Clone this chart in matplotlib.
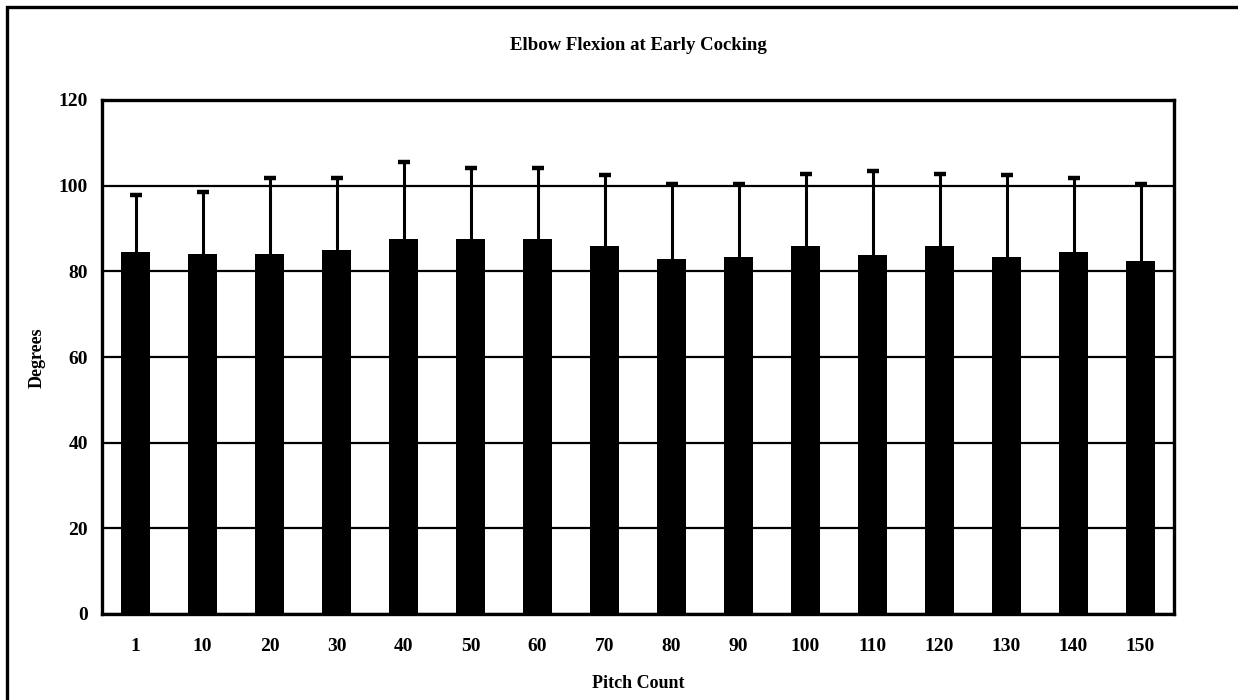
import matplotlib
matplotlib.use("Agg")
import matplotlib.pyplot as plt
from matplotlib.patches import Rectangle
import numpy as np

# Elbow flexion (degrees) at early cocking, by pitch count
pitch_counts = ["1", "10", "20", "30", "40", "50", "60", "70", "80", "90",
                "100", "110", "120", "130", "140", "150"]
mean_flexion = [84.4, 84.1, 84.1, 85.0, 87.5, 87.5, 87.5, 85.8, 82.9, 83.3,
                85.8, 83.8, 85.8, 83.3, 84.4, 82.3]
sd_flexion = [13.5, 14.4, 17.8, 16.9, 18.1, 16.7, 16.7, 16.7, 17.5, 17.2,
              17.0, 19.6, 17.0, 19.2, 17.5, 18.1]
y_ticks = [0, 20, 40, 60, 80, 100, 120]

plt.rcParams["font.family"] = ["Liberation Serif", "DejaVu Serif"]
plt.rcParams["font.weight"] = "bold"

W, H = 1238, 700
fig = plt.figure(figsize=(W / 100, H / 100), dpi=100)
fig.patch.set_facecolor("white")

# Outer chart border
fig.patches.append(Rectangle((7 / W, -0.05), 1.2, 1 - 7 / H + 0.05,
                             transform=fig.transFigure, fill=False,
                             edgecolor="black", linewidth=2.4, zorder=0))

ax = fig.add_axes([102 / W, 1 - 614 / H, (1174 - 102) / W, (614 - 100) / H])
x = np.arange(len(pitch_counts))
ax.bar(x, mean_flexion, width=0.42, color="black", zorder=2)
eb = ax.errorbar(x, mean_flexion, yerr=[np.zeros(len(sd_flexion)), sd_flexion],
                 fmt="none", ecolor="black", elinewidth=2.2, capsize=4.5,
                 capthick=3.2, zorder=3)
# upper-only error bars: hide the caps sitting on the bar tops
eb[1][0].set_visible(False)

ax.set_xlim(-0.5, len(pitch_counts) - 0.5)
ax.set_ylim(0, 120)
ax.set_yticks(y_ticks)
ax.set_xticks(x)
ax.set_xticklabels(pitch_counts)
ax.tick_params(length=0, labelsize=14, pad=10)
for lab in ax.get_xticklabels() + ax.get_yticklabels():
    lab.set_fontweight("bold")
ax.tick_params(axis="x", pad=17)

ax.set_axisbelow(True)
ax.yaxis.grid(True, color="black", linewidth=1.6)
for s in ax.spines.values():
    s.set_linewidth(2.4)
    s.set_color("black")

fig.text((102 + 1174) / 2 / W, 1 - 45 / H, "Elbow Flexion at Early Cocking",
         ha="center", va="center", fontsize=13.5, fontweight="bold")
fig.text((102 + 1174) / 2 / W, 1 - 683 / H, "Pitch Count",
         ha="center", va="center", fontsize=13, fontweight="bold")
fig.text(37 / W, 1 - 358 / H, "Degrees", rotation=90,
         ha="center", va="center", fontsize=13, fontweight="bold")

fig.savefig("out.png", dpi=100, facecolor="white")
